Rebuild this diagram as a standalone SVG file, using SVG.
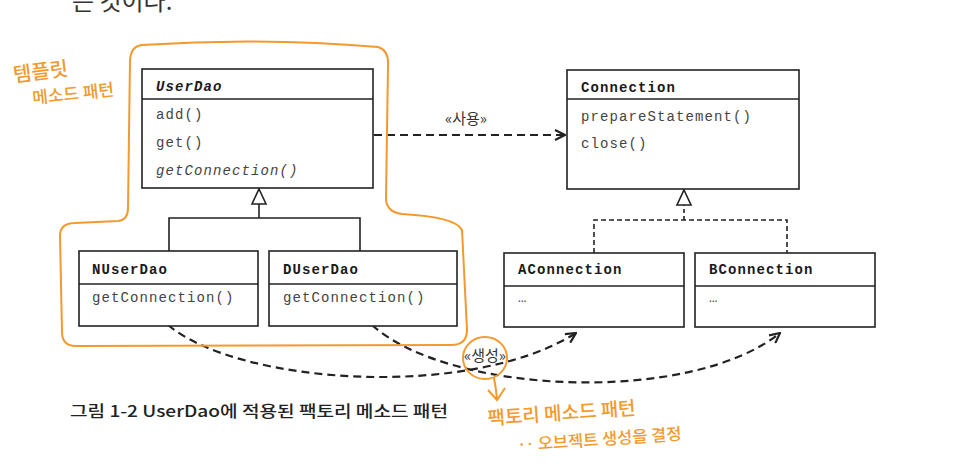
<svg xmlns="http://www.w3.org/2000/svg" width="960" height="464" viewBox="0 0 960 464">
<defs>
<style>
.box{fill:#fff;stroke:#222;stroke-width:1.6}
.div{stroke:#222;stroke-width:1.4}
.name{font-family:"Liberation Mono",monospace;font-weight:700;font-size:14px;letter-spacing:1.1px;fill:#1a1a1a}
.meth{font-family:"Liberation Mono",monospace;font-size:14px;letter-spacing:1.1px;fill:#444}
.dash{fill:none;stroke:#222;stroke-width:2.2;stroke-dasharray:8 5}
.solid{fill:none;stroke:#222;stroke-width:1.6}
.lbl{font-family:"Noto Sans CJK KR","Noto Sans",sans-serif;font-size:15px;fill:#333}
.or{fill:none;stroke:#F29A2E;stroke-width:2}
.ot{font-family:"Noto Sans CJK KR",sans-serif;fill:#F29A2E;font-weight:500}
</style>
<marker id="open" viewBox="0 0 12 12" refX="11" refY="6" markerWidth="12" markerHeight="12" markerUnits="userSpaceOnUse" orient="auto">
<path d="M1,1 L11,6 L1,11" fill="none" stroke="#222" stroke-width="2.2"/>
</marker>
</defs>
<rect width="960" height="464" fill="#fff"/>

<text x="72" y="10" font-family="Noto Sans CJK KR,sans-serif" font-size="24" fill="#333">는 것이다.</text>

<g id="connectors">
<path class="solid" d="M259,218 L259,204"/>
<path d="M259,189 L266,204 L252,204 Z" fill="#fff" stroke="#222" stroke-width="1.6"/>
<path class="solid" d="M169,251 L169,218 L360,218 L360,251"/>
<path d="M684,220 L684,205" fill="none" stroke="#222" stroke-width="1.6" stroke-dasharray="4 3"/>
<path d="M684,190 L691,205 L677,205 Z" fill="#fff" stroke="#222" stroke-width="1.6"/>
<path d="M594,253 L594,220 L787,220 L787,253" fill="none" stroke="#222" stroke-width="1.6" stroke-dasharray="5 3"/>
<path class="dash" d="M374,135 L565,135" marker-end="url(#open)"/>
<text class="lbl" x="466" y="124" text-anchor="middle">«사용»</text>
<path class="dash" d="M168,325 C240,385 470,400 576,333" marker-end="url(#open)"/>
<path class="dash" d="M372,325 C450,395 690,405 780,333" marker-end="url(#open)"/>
<text class="lbl" x="485" y="361" text-anchor="middle">«생성»</text>
</g>

<g id="UserDao">
<rect class="box" x="142" y="69" width="231" height="119"/>
<line class="div" x1="142" y1="99" x2="373" y2="99"/>
<text class="name" x="156" y="91" font-style="italic">UserDao</text>
<text class="meth" x="156" y="119">add()</text>
<text class="meth" x="156" y="147">get()</text>
<text class="meth" x="156" y="175" font-style="italic">getConnection()</text>
</g>
<g id="NUserDao">
<rect class="box" x="79" y="251" width="179" height="75"/>
<line class="div" x1="79" y1="284" x2="258" y2="284"/>
<text class="name" x="92" y="274">NUserDao</text>
<text class="meth" x="92" y="302">getConnection()</text>
</g>
<g id="DUserDao">
<rect class="box" x="269" y="251" width="188" height="75"/>
<line class="div" x1="269" y1="284" x2="457" y2="284"/>
<text class="name" x="283" y="274">DUserDao</text>
<text class="meth" x="283" y="302">getConnection()</text>
</g>
<g id="Connection">
<rect class="box" x="567" y="70" width="232" height="119"/>
<line class="div" x1="567" y1="99" x2="799" y2="99"/>
<text class="name" x="581" y="92">Connection</text>
<text class="meth" x="581" y="121">prepareStatement()</text>
<text class="meth" x="581" y="148">close()</text>
</g>
<g id="AConnection">
<rect class="box" x="504" y="253" width="180" height="74"/>
<line class="div" x1="504" y1="286" x2="684" y2="286"/>
<text class="name" x="518" y="274">AConnection</text>
<text class="meth" x="518" y="302" font-size="10">…</text>
</g>
<g id="BConnection">
<rect class="box" x="695" y="253" width="180" height="74"/>
<line class="div" x1="695" y1="286" x2="875" y2="286"/>
<text class="name" x="709" y="274">BConnection</text>
<text class="meth" x="709" y="302" font-size="10">…</text>
</g>

<g id="caption">
<text x="70" y="417" font-family="Noto Sans CJK KR,sans-serif" font-size="15.5" font-weight="500" fill="#222" textLength="378" lengthAdjust="spacingAndGlyphs">그림 1-2 UserDao에 적용된 팩토리 메소드 패턴</text>
</g>

<g id="annotations">
<path class="or" d="M142,45 Q260,37 378,47 Q389,50 388,66 L386,198 Q386,212 402,214 Q456,217 462,230 L467,330 Q467,345 451,345 L76,346 Q62,346 62,332 L60,236 Q60,223 75,223 L118,221 Q128,220 128,208 L130,60 Q131,46 142,45 Z"/>
<text class="ot" font-size="20" transform="translate(14,82) rotate(-7)">템플릿</text>
<text class="ot" font-size="17" transform="translate(33,104) rotate(-6)">메소드 패턴</text>
<ellipse class="or" cx="485" cy="358" rx="22" ry="21"/>
<path class="or" d="M494,378 Q496,388 497,399 M488,390 L497,400 L505,388"/>
<text class="ot" font-size="19" transform="translate(488,425) rotate(-4)">팩토리 메소드 패턴</text>
<text class="ot" font-size="16.5" transform="translate(518,451) rotate(-4)">‥ 오브젝트 생성을 결정</text>
</g>
</svg>
